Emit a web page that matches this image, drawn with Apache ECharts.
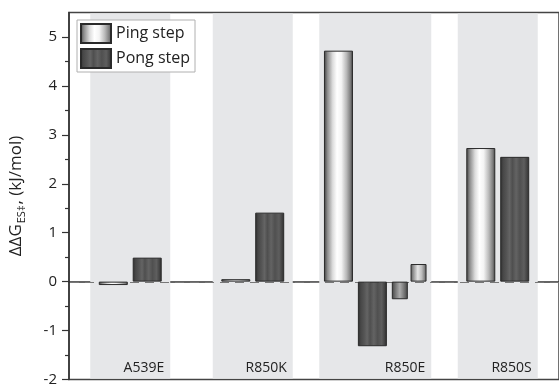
<!DOCTYPE html>
<html>
<head>
<meta charset="utf-8">
<style>
  html, body { margin: 0; padding: 0; background: #fff; }
  #chart { width: 559px; height: 387px; }
</style>
<script src="https://cdn.jsdelivr.net/npm/echarts@6/dist/echarts.min.js"></script>
</head>
<body>
<div id="chart"></div>
<script>
// Mutants along the x axis
const mutants = ['A539E', 'R850K', 'R850E', 'R850S'];

// ΔΔG values (kJ/mol) for the two steps, A539E / R850K / R850S groups
const pingStep = [-0.07, 0.05, '-', 2.73];
const pongStep = [0.49, 1.41, '-', 2.55];

// R850E has its own four-bar group
const r850ePing = [4.72];
const r850ePong = [-1.32];
const r850eSubPong = [-0.36];
const r850eSubPing = [0.36];

// y-axis tick values
const majorTicks = [-2, -1, 0, 1, 2, 3, 4, 5];
const minorTicks = [-1.5, -0.5, 0.5, 1.5, 2.5, 3.5, 4.5];

const FONT = 'Open Sans';
const bandWidths = [80, 80, 112, 80];

function hGrad(stops) {
  return {
    type: 'linear', x: 0, y: 0, x2: 1, y2: 0,
    colorStops: stops.map(s => ({ offset: s[0], color: s[1] }))
  };
}

const pingFill = hGrad([
  [0, '#3c3c3c'], [0.12, '#8c8c8c'], [0.3, '#dcdcdc'], [0.45, '#ffffff'],
  [0.6, '#f4f4f4'], [0.78, '#b8b8b8'], [0.92, '#7a7a7a'], [1, '#3c3c3c']
]);
const pongFill = hGrad([
  [0, '#2e2e2e'], [0.1, '#474747'], [0.22, '#555555'], [0.32, '#646464'],
  [0.42, '#4f4f4f'], [0.55, '#636363'], [0.68, '#505050'], [0.82, '#5e5e5e'],
  [0.92, '#444444'], [1, '#2e2e2e']
]);
const subPongFill = hGrad([
  [0, '#444444'], [0.25, '#7a7a7a'], [0.5, '#acacac'], [0.75, '#7a7a7a'], [1, '#444444']
]);
const subPingFill = hGrad([
  [0, '#5a5a5a'], [0.2, '#9a9a9a'], [0.45, '#e6e6e6'], [0.7, '#bdbdbd'], [1, '#5a5a5a']
]);

const barBorder = { borderColor: '#2a2a2a', borderWidth: 1 };

function bar(name, data, fill, width, xAxisIndex) {
  return {
    name: name,
    type: 'bar',
    xAxisIndex: xAxisIndex,
    yAxisIndex: 0,
    data: data,
    barWidth: width,
    barGap: '17%',
    z: 3,
    itemStyle: Object.assign({ color: fill }, barBorder)
  };
}

const chart = echarts.init(document.getElementById('chart'), null, { renderer: 'canvas' });

chart.setOption({
  animation: false,
  backgroundColor: '#ffffff',
  textStyle: { fontFamily: FONT },
  grid: {
    left: 68, top: 12.5, width: 500, height: 374,
    show: true, borderColor: '#444', borderWidth: 1.5, backgroundColor: 'transparent'
  },
  legend: {
    data: ['Ping step', 'Pong step'],
    orient: 'vertical',
    left: 77, top: 20,
    icon: 'rect',
    itemWidth: 30, itemHeight: 19, itemGap: 4,
    padding: [3, 5, 3, 3],
    backgroundColor: '#ffffff',
    borderColor: '#b0b0b0', borderWidth: 1,
    textStyle: { fontFamily: FONT, fontSize: 16, color: '#222' },
    selectedMode: false
  },
  xAxis: [
    {
      type: 'category', data: mutants, position: 'bottom',
      axisLine: { show: true, lineStyle: { color: '#333', width: 1.5 } },
      axisTick: { show: false }, axisLabel: { show: false }, splitLine: { show: false }
    },
    {
      type: 'category', data: mutants, position: 'bottom', show: false
    }
  ],
  yAxis: [
    {
      type: 'value', min: -2, max: 5.5, interval: 1, position: 'left',
      name: '{m|ΔΔG}{s|ES‡}{m|, (kJ/mol)}',
      nameLocation: 'middle', nameGap: 42, nameRotate: 90,
      nameTextStyle: {
        rich: {
          m: { fontFamily: FONT, fontSize: 17, color: '#222' },
          s: { fontFamily: FONT, fontSize: 11, color: '#222', padding: [10, 1, 0, 1] }
        }
      },
      axisLine: { show: true, lineStyle: { color: '#333', width: 1.5 } },
      axisTick: { show: true, customValues: majorTicks, length: 7, lineStyle: { color: '#333', width: 1.2 } },
      axisLabel: {
        customValues: majorTicks, margin: 12,
        fontFamily: FONT, fontSize: 15, color: '#222'
      },
      splitLine: { show: false }
    },
    {
      type: 'value', min: -2, max: 5.5, position: 'left',
      axisLine: { show: false },
      axisTick: { show: true, customValues: minorTicks, length: 4, lineStyle: { color: '#333', width: 1.2 } },
      axisLabel: { show: false },
      splitLine: { show: false }
    }
  ],
  series: [
    {
      // shaded band behind each mutant group, its name in the lower right,
      // and the dashed zero reference line over the bands
      type: 'custom',
      xAxisIndex: 0, yAxisIndex: 0,
      z: 1,
      silent: true,
      data: mutants.map((m, i) => [i]),
      renderItem: function (params, api) {
        const idx = api.value(0);
        const cx = api.coord([idx, 0])[0];
        const cs = params.coordSys;
        const w = bandWidths[idx];
        const children = [
          {
            type: 'rect',
            shape: { x: cx - w / 2, y: cs.y + 1, width: w, height: cs.height - 2 },
            style: { fill: '#e6e7e9' }
          },
          {
            type: 'text',
            z2: 5,
            style: {
              text: mutants[idx],
              x: cx + w / 2 - 6, y: cs.y + cs.height - 4,
              align: 'right', verticalAlign: 'bottom',
              font: '14px "' + FONT + '"', fill: '#222'
            }
          }
        ];
        if (idx === 0) {
          const y0 = Math.round(api.coord([0, 0])[1]) + 0.5;
          children.push({
            type: 'line',
            z2: 10,
            shape: { x1: cs.x + 1, y1: y0, x2: cs.x + cs.width, y2: y0 },
            style: { stroke: '#777', lineWidth: 1.2, lineDash: [9, 6] }
          });
        }
        return { type: 'group', children: children };
      }
    },
    bar('Ping step', pingStep, pingFill, 29, 0),
    bar('Pong step', pongStep, pongFill, 29, 0),
    bar('Ping step', [null, null, r850ePing[0], null], pingFill, 29, 1),
    bar('Pong step', [null, null, r850ePong[0], null], pongFill, 29, 1),
    bar('Pong step (2)', [null, null, r850eSubPong[0], null], subPongFill, 16, 1),
    bar('Ping step (2)', [null, null, r850eSubPing[0], null], subPingFill, 16, 1)
  ]
});
</script>
</body>
</html>
